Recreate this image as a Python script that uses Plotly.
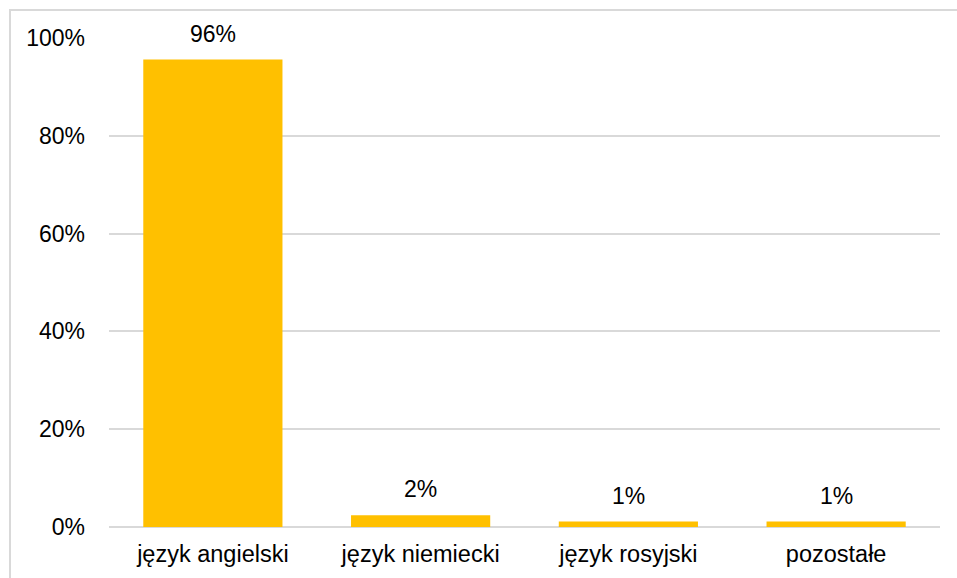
import plotly.graph_objects as go

categories = ["język angielski", "język niemiecki", "język rosyjski", "pozostałe"]
values = [95.6, 2.4, 1.1, 1.1]
labels = ["96%", "2%", "1%", "1%"]
y_ticks = [0, 20, 40, 60, 80, 100]
y_tick_text = ["0%", "20%", "40%", "60%", "80%", "100%"]

W, H = 957, 578
ml, mr, mt, mb = 109, 17, 38, 51
pw, ph = W - ml - mr, H - mt - mb
FONT = "Liberation Sans, Arial, sans-serif"

fig = go.Figure()
fig.add_trace(go.Bar(
    x=categories, y=values,
    marker=dict(color="#FFC000", line=dict(width=0)),
    width=0.67,
    hoverinfo="skip",
))

for c, v, t in zip(categories, values, labels):
    fig.add_annotation(x=c, y=v, text=t, showarrow=False,
                       yanchor="bottom", yshift=11,
                       font=dict(size=23, color="#000000", family=FONT))

def px_x(p):
    return (p - ml) / pw

def px_y(p):
    return (H - mb - p) / ph

fig.add_shape(type="rect", xref="paper", yref="paper",
              x0=px_x(10), x1=px_x(W + 20), y0=px_y(H + 20), y1=px_y(10),
              line=dict(color="#D9D9D9", width=2), fillcolor="rgba(0,0,0,0)", layer="below")

fig.update_layout(
    width=W, height=H,
    margin=dict(l=ml, r=mr, t=mt, b=mb, pad=0, autoexpand=False),
    paper_bgcolor="#FFFFFF", plot_bgcolor="#FFFFFF",
    showlegend=False,
    font=dict(family=FONT, size=23, color="#000000"),
    xaxis=dict(showgrid=False, showline=False, zeroline=False, ticks="",
               tickfont=dict(size=23.5), ticklabelstandoff=10, automargin=False),
    yaxis=dict(range=[0, 100], tickvals=y_ticks, ticktext=y_tick_text,
               showgrid=True, gridcolor="#D9D9D9", gridwidth=1.5,
               zeroline=True, zerolinecolor="#D9D9D9", zerolinewidth=1.5,
               showline=False, ticks="", tickfont=dict(size=23),
               ticklabelstandoff=23, automargin=False),
)

fig.write_html("out.html", config={"displayModeBar": False},
               post_script="document.body.style.margin='0';document.body.style.overflow='hidden';")
